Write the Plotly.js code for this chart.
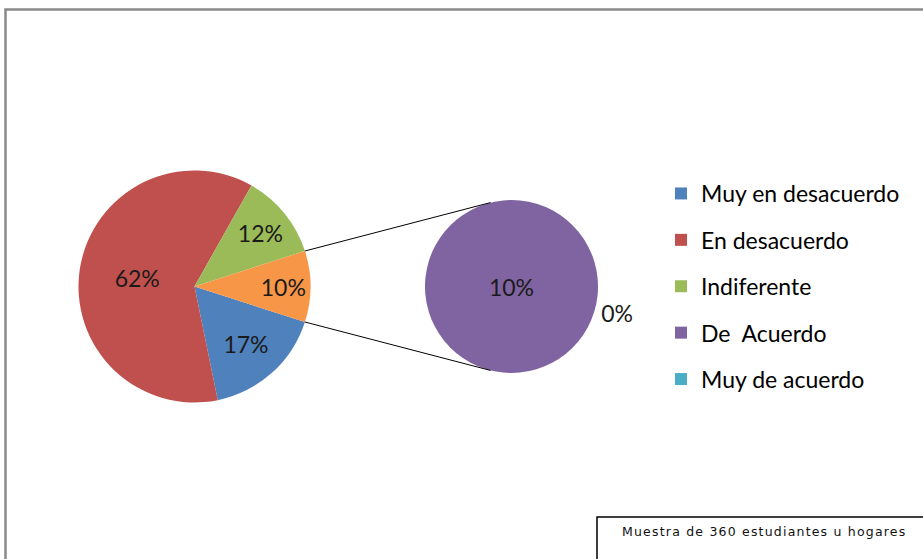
<!DOCTYPE html>
<html>
<head>
<meta charset="utf-8">
<script src="https://cdn.plot.ly/plotly-3.0.1.min.js"></script>
<style>
html,body{margin:0;padding:0;background:#fff;}
#chart{width:923px;height:559px;}
.annotation-text{letter-spacing:1.2px;}
</style>
</head>
<body>
<div id="chart"></div>
<script>
// ---- data ----
const categories = ['Muy en desacuerdo', 'En desacuerdo', 'Indiferente', 'De\u00a0 Acuerdo', 'Muy de acuerdo'];
const mainLabels = ['Muy en desacuerdo', 'En desacuerdo', 'Indiferente', 'Otro'];
const mainValues = [17, 62, 12, 10];
const subLabels = ['De\u00a0 Acuerdo', 'Muy de acuerdo'];
const subValues = [10, 0];
const noteText = 'Muestra de 360 estudiantes u hogares';

// ---- style ----
const catColors = ['#4F81BD', '#C0504D', '#9BBB59', '#8064A2', '#4BACC6'];
const otherColor = '#F79646';
const W = 923, H = 559;
const FONT = 'Lato, "Liberation Sans", sans-serif';

// pie geometry (pixels)
const main = {cx: 194.5, cy: 286.5, r: 116};
const sub = {cx: 511.5, cy: 286.5, r: 86.5};
function dom(p) {
  return {
    x: [(p.cx - p.r) / W, (p.cx + p.r) / W],
    y: [1 - (p.cy + p.r) / H, 1 - (p.cy - p.r) / H]
  };
}

const mainTotal = mainValues.reduce((a, b) => a + b, 0);
const otherVal = mainValues[mainValues.length - 1];
const halfDeg = 180 * otherVal / mainTotal;

const traces = [];
traces.push({
  type: 'pie',
  labels: mainLabels,
  values: mainValues,
  sort: false,
  direction: 'clockwise',
  rotation: 90 + halfDeg,
  domain: dom(main),
  marker: {colors: catColors.slice(0, 3).concat([otherColor]), line: {width: 0}},
  texttemplate: '%{value}%',
  textposition: 'inside',
  insidetextorientation: 'horizontal',
  textfont: {family: FONT, size: 23, color: '#1a1a1a'},
  showlegend: false,
  hoverinfo: 'label+percent'
});
traces.push({
  type: 'pie',
  labels: subLabels,
  values: subValues,
  sort: false,
  direction: 'clockwise',
  rotation: 107,
  domain: dom(sub),
  marker: {colors: catColors.slice(3), line: {width: 0}},
  texttemplate: '%{value}%',
  textposition: ['inside', 'outside'],
  insidetextorientation: 'horizontal',
  textfont: {family: FONT, size: 23, color: '#1a1a1a'},
  outsidetextfont: {family: FONT, size: 23, color: '#1a1a1a'},
  showlegend: false,
  hoverinfo: 'label+percent'
});
// legend entries
categories.forEach((c, i) => {
  traces.push({
    type: 'scatter', mode: 'markers', x: [null], y: [null],
    name: c, legendgroup: 'g' + i,
    marker: {symbol: 'square', size: 12, color: catColors[i]},
    hoverinfo: 'skip'
  });
});

// connector lines computed from geometry
const h = halfDeg * Math.PI / 180;
const subAng = 104 * Math.PI / 180;
function px(x) { return x / W; }
function py(y) { return 1 - y / H; }
const lines = [
  [main.cx + main.r * Math.cos(h), main.cy - main.r * Math.sin(h), sub.cx + sub.r * Math.cos(subAng), sub.cy - sub.r * Math.sin(subAng)],
  [main.cx + main.r * Math.cos(h), main.cy + main.r * Math.sin(h), sub.cx + sub.r * Math.cos(subAng), sub.cy + sub.r * Math.sin(subAng)]
];
const shapes = [
  {type: 'rect', xref: 'paper', yref: 'paper', x0: px(5.5), x1: 1.05, y0: -0.05, y1: py(9.5),
   line: {color: '#8a8a8a', width: 2.5}, fillcolor: 'rgba(0,0,0,0)'},
  {type: 'rect', xref: 'paper', yref: 'paper', x0: px(597), x1: 1.05, y0: -0.05, y1: py(517),
   line: {color: '#000', width: 1.5}, fillcolor: '#fff'}
];
lines.forEach(l => shapes.push({type: 'line', xref: 'paper', yref: 'paper',
  x0: px(l[0]), y0: py(l[1]), x1: px(l[2]), y1: py(l[3]), line: {color: '#000', width: 1}}));

const layout = {
  width: W, height: H,
  margin: {l: 0, r: 0, t: 0, b: 0},
  paper_bgcolor: '#fff', plot_bgcolor: '#fff',
  xaxis: {visible: false}, yaxis: {visible: false},
  showlegend: true,
  legend: {
    x: px(661), y: py(172), xanchor: 'left', yanchor: 'top',
    font: {family: FONT, size: 23, color: '#000'},
    traceorder: 'grouped', tracegroupgap: 13.5,
    bgcolor: 'rgba(0,0,0,0)', itemclick: false
  },
  uniformtext: {minsize: 23, mode: 'show'},
  shapes: shapes,
  annotations: [{
    xref: 'paper', yref: 'paper', x: px(764), y: py(531), xanchor: 'center', yanchor: 'middle',
    text: noteText, showarrow: false,
    font: {family: '"DejaVu Sans", sans-serif', size: 12.5, color: '#111'}
  }]
};

Plotly.newPlot('chart', traces, layout, {displayModeBar: false, staticPlot: true});
</script>
</body>
</html>
